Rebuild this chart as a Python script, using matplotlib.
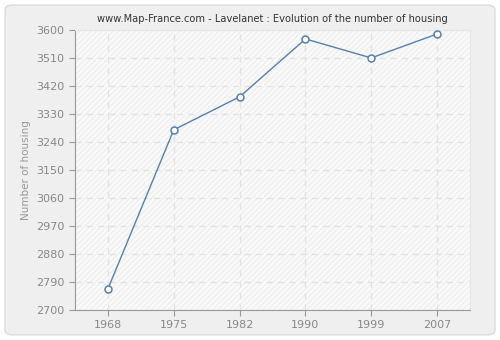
import matplotlib
matplotlib.use("Agg")
import matplotlib.pyplot as plt
from matplotlib.patches import FancyBboxPatch

years = ["1968", "1975", "1982", "1990", "1999", "2007"]
housing = [2768, 3279, 3385, 3571, 3510, 3587]
yticks = [2700, 2790, 2880, 2970, 3060, 3150, 3240, 3330, 3420, 3510, 3600]

fig = plt.figure(figsize=(5, 3.4), dpi=100)
fig.patch.set_facecolor("white")
bg = FancyBboxPatch((0.01, 0.015), 0.98, 0.97, boxstyle="round,pad=0,rounding_size=0.015",
                    transform=fig.transFigure, facecolor="#efefef", edgecolor="#dcdcdc", lw=1,
                    zorder=-5)
fig.patches.append(bg)

ax = fig.add_axes([0.15, 0.088, 0.79, 0.824])
ax.set_facecolor("#fafafa")
ax.add_patch(plt.Rectangle((0, 0), 1, 1, transform=ax.transAxes, facecolor="none",
                           edgecolor="#efefef", hatch="//////", lw=0, zorder=0))
x = list(range(len(years)))
ax.plot(x, housing, color="#5580b0", lw=1, marker="o", markersize=5,
        markerfacecolor="white", markeredgecolor="#5580b0", markeredgewidth=1.1, zorder=3)

ax.set_xlim(-0.5, 5.5)
ax.set_ylim(2700, 3600)
ax.set_xticks(x)
ax.set_xticklabels(years)
ax.set_yticks(yticks)
ax.grid(True, color="#e2e2e2", linestyle=(0, (5, 4)), lw=0.9)
ax.set_axisbelow(True)
for s in ["top", "right"]:
    ax.spines[s].set_color("#e6e6e6")
for s in ["left", "bottom"]:
    ax.spines[s].set_color("#999999")
ax.tick_params(colors="#999999", labelcolor="#888888", labelsize=8, length=4)
ax.set_ylabel("Number of housing", color="#999999", fontsize=7.5)
ax.set_title("www.Map-France.com - Lavelanet : Evolution of the number of housing",
             fontsize=7.1, color="#333333", pad=6)

fig.savefig("out.png", dpi=100)
